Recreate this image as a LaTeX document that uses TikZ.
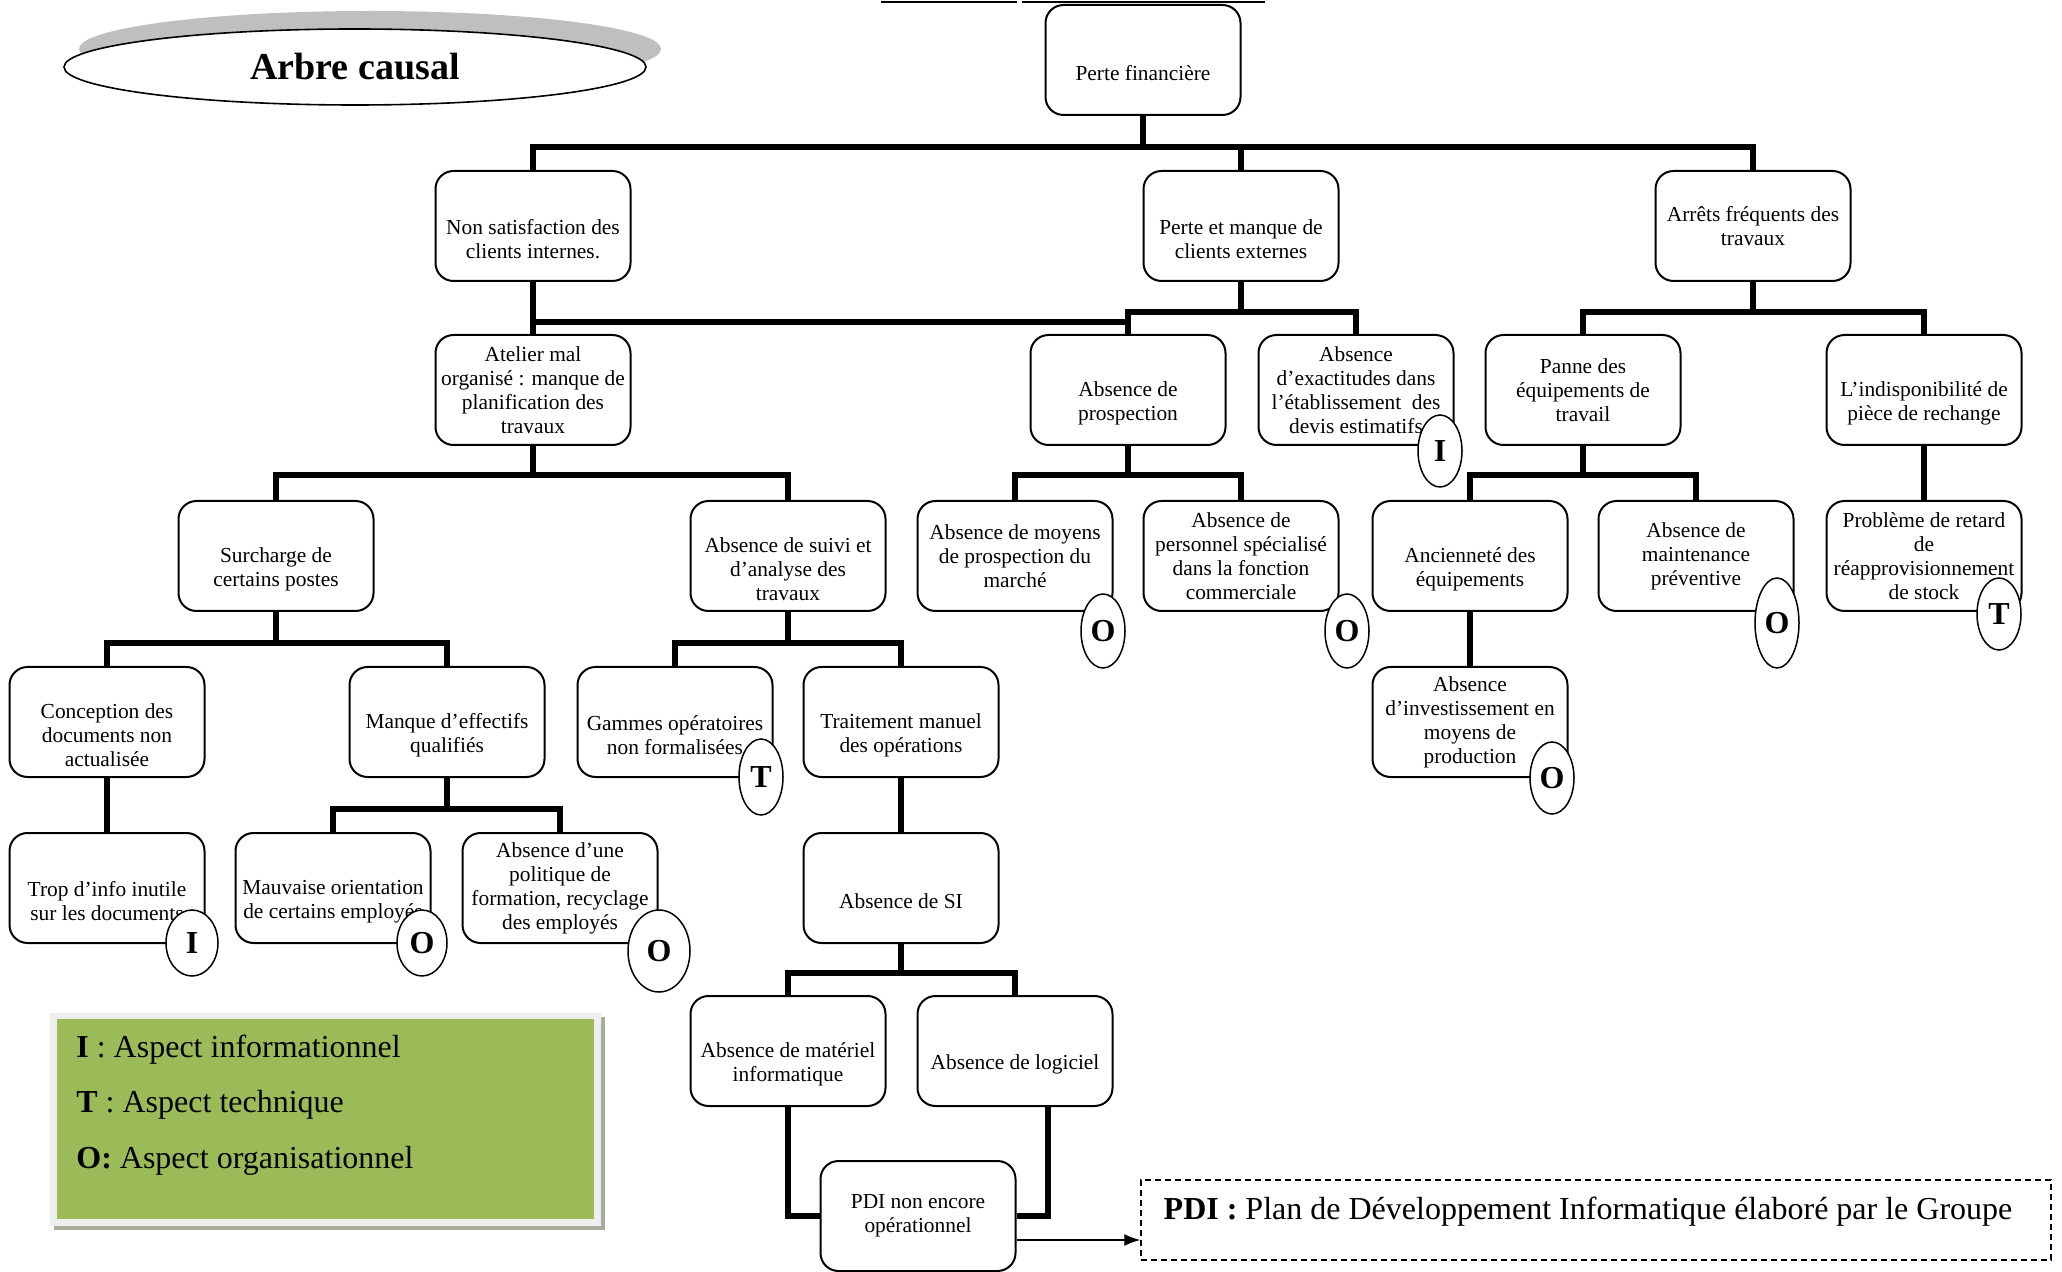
\documentclass[tikz,border=0pt]{standalone}
\usepackage{fontspec}
\setmainfont{Liberation Serif}
\usetikzlibrary{shapes.geometric,arrows.meta}
\definecolor{leggreen}{HTML}{9BBB59}
\definecolor{legframe}{HTML}{EFEFEF}
\definecolor{legshadow}{HTML}{A8AC9A}
\definecolor{titleshadow}{HTML}{BFBFBF}
\begin{document}
\begin{tikzpicture}[x=0.5pt,y=-0.5pt,
  box/.style={draw, line width=1pt, rounded corners=9pt, minimum width=97.5pt, minimum height=55pt,
    align=center, inner sep=0pt, font=\fontsize{10.7}{12}\selectfont},
  conn/.style={line width=3pt},
  badge/.style={draw, ellipse, fill=white, line width=0.75pt, inner sep=0pt,
    minimum width=22pt, minimum height=37pt, font=\fontsize{16}{16}\selectfont\bfseries},
  legtext/.style={anchor=base west, inner sep=0pt, font=\fontsize{16}{16}\selectfont}
]
\useasboundingbox (0,0) rectangle (2062,1272);

% cut-off underlines at the top
\draw[line width=1pt] (881,2) -- (1017,2);
\draw[line width=1pt] (1022,2) -- (1265,2);

% title
\fill[titleshadow] (370,49) ellipse [x radius=145.5pt, y radius=19pt];
\node[draw, ellipse, fill=white, line width=0.8pt, minimum width=291pt, minimum height=38pt,
  font=\fontsize{19}{19}\selectfont\bfseries] (title) at (355,67) {Arbre causal};

% bus levels
\coordinate (y1) at (0,147);
\coordinate (y2) at (0,312);
\coordinate (y2b) at (0,322);
\coordinate (y3) at (0,475);
\coordinate (y4) at (0,643);
\coordinate (y5) at (0,809);
\coordinate (y6) at (0,973);

% boxes
\node[box] (pf) at (1143,60) {\strut\\Perte financière};
\node[box] (ns) at (533,226) {\strut\\Non satisfaction des\\clients internes.};
\node[box] (pm) at (1241,226) {\strut\\Perte et manque de\\clients externes};
\node[box] (ar) at (1753,226) {Arrêts fréquents des\\travaux};

\node[box] (at) at (533,390) {Atelier mal\\organisé : manque de\\planification des\\travaux};
\node[box] (ap) at (1128,390) {\strut\\Absence de\\prospection};
\node[box] (ae) at (1356,390) {Absence\\d’exactitudes dans\\l’établissement\ \ des\\devis estimatifs};
\node[box] (pa) at (1583,390) {Panne des\\équipements de\\travail};
\node[box] (ind) at (1924,390) {\strut\\L’indisponibilité de\\pièce de rechange};

\node[box] (su) at (276,556) {\strut\\Surcharge de\\certains postes};
\node[box] (as) at (788,556) {\strut\\Absence de suivi et\\d’analyse des\\travaux};
\node[box] (mo) at (1015,556) {Absence de moyens\\de prospection du\\marché};
\node[box] (pe) at (1241,556) {Absence de\\personnel spécialisé\\dans la fonction\\commerciale};
\node[box] (an) at (1470,556) {\strut\\Ancienneté des\\équipements};
\node[box] (ma) at (1696,556) {Absence de\\maintenance\\préventive};
\node[box] (pr) at (1924,556) {Problème de retard\\de\\réapprovisionnement\\de stock};

\node[box] (co) at (107,722) {\strut\\Conception des\\documents non\\actualisée};
\node[box] (me) at (447,722) {\strut\\Manque d’effectifs\\qualifiés};
\node[box] (ga) at (675,722) {\strut\\Gammes opératoires\\non formalisées};
\node[box] (tr) at (901,722) {\strut\\Traitement manuel\\des opérations};
\node[box] (inv) at (1470,722) {Absence\\d’investissement en\\moyens de\\production};

\node[box] (tro) at (107,888) {\strut\\Trop d’info inutile\\sur les documents};
\node[box] (mau) at (333,888) {\strut\\Mauvaise orientation\\de certains employés};
\node[box] (pol) at (560,888) {Absence d’une\\politique de\\formation, recyclage\\des employés};
\node[box] (si) at (901,888) {\strut\\Absence de SI};

\node[box] (mat) at (788,1051) {\strut\\Absence de matériel\\informatique};
\node[box] (log) at (1015,1051) {\strut\\Absence de logiciel};

\node[box] (pdi) at (918,1216) {PDI non encore\\opérationnel};

% connectors
\draw[conn] (pf.south) -- (pf.south |- y1);
\draw[conn] (ns.north) -- (ns.north |- y1) -- (ar.north |- y1) -- (ar.north);
\draw[conn] (pm.north) -- (pm.north |- y1);
\draw[conn] (ns.south) -- (at.north);
\draw[conn] (ns.south |- y2b) -- (ap.north |- y2b);
\draw[conn] (pm.south) -- (pm.south |- y2);
\draw[conn] (ap.north) -- (ap.north |- y2) -- (ae.north |- y2) -- (ae.north);
\draw[conn] (ar.south) -- (ar.south |- y2);
\draw[conn] (pa.north) -- (pa.north |- y2) -- (ind.north |- y2) -- (ind.north);
\draw[conn] (at.south) -- (at.south |- y3);
\draw[conn] (su.north) -- (su.north |- y3) -- (as.north |- y3) -- (as.north);
\draw[conn] (ap.south) -- (ap.south |- y3);
\draw[conn] (mo.north) -- (mo.north |- y3) -- (pe.north |- y3) -- (pe.north);
\draw[conn] (pa.south) -- (pa.south |- y3);
\draw[conn] (an.north) -- (an.north |- y3) -- (ma.north |- y3) -- (ma.north);
\draw[conn] (ind.south) -- (pr.north);
\draw[conn] (su.south) -- (su.south |- y4);
\draw[conn] (co.north) -- (co.north |- y4) -- (me.north |- y4) -- (me.north);
\draw[conn] (as.south) -- (as.south |- y4);
\draw[conn] (ga.north) -- (ga.north |- y4) -- (tr.north |- y4) -- (tr.north);
\draw[conn] (an.south) -- (inv.north);
\draw[conn] (co.south) -- (tro.north);
\draw[conn] (me.south) -- (me.south |- y5);
\draw[conn] (mau.north) -- (mau.north |- y5) -- (pol.north |- y5) -- (pol.north);
\draw[conn] (tr.south) -- (si.north);
\draw[conn] (si.south) -- (si.south |- y6);
\draw[conn] (mat.north) -- (mat.north |- y6) -- (log.north |- y6) -- (log.north);
\draw[conn] (mat.south) |- (pdi.west);
\draw[conn] ([xshift=16.5pt]log.south) |- (pdi.east);

% badges
\node[badge, minimum height=36pt] (bI1) at (1440,451) {I};
\node[badge] (bO1) at (1103,631) {O};
\node[badge] (bO2) at (1347,631) {O};
\node[badge, minimum height=45pt] (bO3) at (1777,623) {O};
\node[badge, minimum height=36pt] (bT1) at (1999,614) {T};
\node[badge, minimum height=38pt] (bT2) at (761,777) {T};
\node[badge, minimum height=36pt] (bO4) at (1552,778) {O};
\node[badge, minimum width=26pt, minimum height=33pt] (bI2) at (192,943) {I};
\node[badge, minimum width=25pt, minimum height=33pt] (bO5) at (422,943) {O};
\node[badge, minimum width=31pt, minimum height=41pt] (bO6) at (659,951) {O};

% PDI definition box
\node[draw, dash pattern=on 3pt off 2pt, line width=0.7pt, minimum width=455pt, minimum height=40pt,
  inner sep=0pt, align=left, text height=11pt, text depth=12pt,
  font=\fontsize{16}{19}\selectfont] (pdib) at (1596,1220)
  {\textbf{PDI :} Plan de Développement Informatique élaboré par le Groupe\hspace*{8pt}};
\coordinate (arrS) at ([yshift=-12pt]pdi.east);
\draw[line width=0.8pt, -{Latex[length=8pt,width=6pt]}] (arrS) -- (arrS -| pdib.west);

% legend
\fill[legshadow] (54,1017) rectangle (605,1230);
\fill[legframe] (50,1013) rectangle (601,1226);
\fill[leggreen] (57,1019) rectangle (594,1219);
\node[legtext] (lI) at (76,1057) {\textbf{I} : Aspect informationnel};
\node[legtext] (lT) at (76,1112) {\textbf{T} : Aspect technique};
\node[legtext] (lO) at (76,1168) {\textbf{O:} Aspect organisationnel};
\end{tikzpicture}
\end{document}
